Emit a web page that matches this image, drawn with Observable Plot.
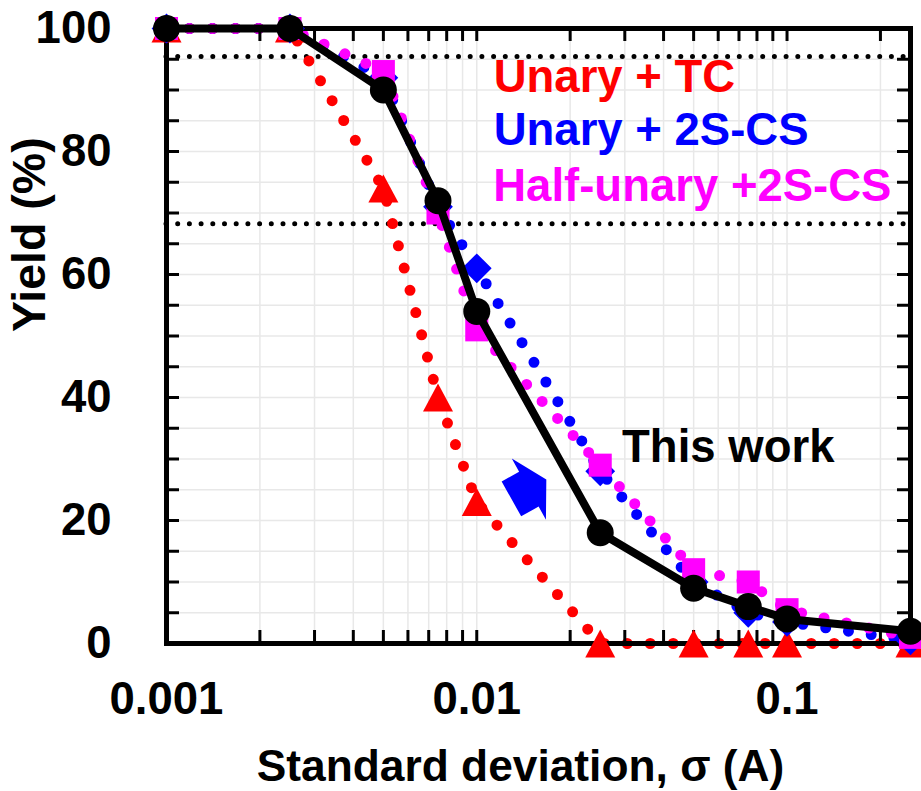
<!DOCTYPE html>
<html><head><meta charset="utf-8">
<script src="https://cdn.jsdelivr.net/npm/d3@7"></script>
<script src="https://cdn.jsdelivr.net/npm/@observablehq/plot@0.6"></script>
<style>
html,body{margin:0;padding:0;background:#fff;}
#chart svg{display:block;}
</style></head><body><div id="chart"></div>
<script>
// ---- data ----
const sigma = [0.001, 0.0025, 0.005, 0.0075, 0.01, 0.025, 0.05, 0.075, 0.1, 0.25];
const yieldTC = [100, 100, 74, 40, 23, 0, 0, 0, 0, 0];
const yield2S = [100, 100, 92, 71, 61, 28, 10, 5, 3.5, 0.5];
const yieldHalf = [100, 100, 93, 70, 51, 29, 12, 10, 5.5, 1];
const yieldThis = [100, 100, 90, 72, 54, 18, 9, 6, 4, 2];
const sigmaLevels = [95.45, 68.27];
const xTicks = [0.001, 0.01, 0.1];
const xTickLabels = ["0.001", "0.01", "0.1"];
const yTicks = [0, 20, 40, 60, 80, 100];
const seriesNames = ["Unary + TC", "Unary + 2S-CS", "Half-unary +2S-CS"];
const seriesColors = ["#ff0000", "#0000ff", "#ff00ff"];
const legendX = [0.01134, 0.01134, 0.0113];
const legendY = [92.0, 83.35, 74.4];
const thisWorkLabel = [{text: "This work", x: 0.0294, y: 31.8}];
const arrowPos = [{x: 0.01472, y: 25.1}];
const xLabel = "Standard deviation, σ (A)";
const yLabel = "Yield (%)";

// ---- helpers ----
const rows = ys => sigma.map((x, i) => ({x, y: ys[i]}));
const xMinor = d3.merge([0.001, 0.01, 0.1].map(d => d3.range(1, 10).map(k => +(k * d).toPrecision(3))))
  .filter(v => v > 0.001 && v <= 0.25);
const yMinor = d3.range(5, 100, 5);

const W = 921, H = 791, mL = 166, mR = 11, mT = 28, mB = 148;
const fw = W - mL - mR, fh = H - mT - mB, tl = 13;
const font = "'Liberation Sans', Arial, Helvetica, sans-serif";
const fs = 45.5;

const arrowSymbol = {
  draw(ctx) {
    const a = -29.2 * Math.PI / 180, c = Math.cos(a), s = Math.sin(a);
    const pts = [[20,0],[0,-35],[0,-20],[-20,-20],[-20,20],[0,20],[0,35]];
    pts.forEach(([x, y], i) => {
      const X = x * c - y * s, Y = x * s + y * c;
      i ? ctx.lineTo(X, Y) : ctx.moveTo(X, Y);
    });
    ctx.closePath();
  }
};
const diamondSymbol = {
  draw(ctx, size) {
    const r = Math.sqrt(size) * 0.7;
    ctx.moveTo(0, -r); ctx.lineTo(r, 0); ctx.lineTo(0, r); ctx.lineTo(-r, 0); ctx.closePath();
  }
};
const triangleSymbol = {
  draw(ctx) {
    ctx.moveTo(0, -14); ctx.lineTo(15, 14); ctx.lineTo(-15, 14); ctx.closePath();
  }
};

const dotted = (ys, color) => Plot.line(rows(ys), {
  x: "x", y: "y", stroke: color, strokeWidth: 11, strokeDasharray: "0 23",
  strokeLinecap: "round", curve: "linear"
});

const chart = Plot.plot({
  width: W, height: H,
  marginLeft: mL, marginRight: mR, marginTop: mT, marginBottom: mB,
  style: {fontFamily: font, fontSize: fs + "px", fontWeight: "bold", background: "white", color: "black"},
  x: {type: "log", domain: [0.001, 0.25], ticks: xTicks,
      tickFormat: d => xTickLabels[xTicks.indexOf(d)], tickSize: 0, tickPadding: 38, label: null},
  y: {domain: [0, 100], ticks: yTicks, tickSize: 0, tickPadding: 55, label: null},
  marks: [
    Plot.ruleX(xMinor, {stroke: "#e8e8e8", strokeWidth: 1.5}),
    Plot.ruleY(yMinor, {stroke: "#e8e8e8", strokeWidth: 1.5}),
    Plot.ruleY(sigmaLevels, {stroke: "black", strokeWidth: 5, strokeDasharray: "0 11.7", strokeLinecap: "round"}),
    dotted(yieldTC, seriesColors[0]),
    dotted(yield2S, seriesColors[1]),
    dotted(yieldHalf, seriesColors[2]),
    Plot.frame({stroke: "black", strokeWidth: 5}),
    Plot.tickX(xMinor, {insetTop: fh - tl, stroke: "black", strokeWidth: 3}),
    Plot.tickX(xMinor, {insetBottom: fh - tl, stroke: "black", strokeWidth: 3}),
    Plot.tickY(yMinor, {insetRight: fw - tl, stroke: "black", strokeWidth: 3}),
    Plot.tickY(yMinor, {insetLeft: fw - tl, stroke: "black", strokeWidth: 3}),
    Plot.dot(rows(yieldTC), {x: "x", y: "y", symbol: triangleSymbol, r: 10, fill: seriesColors[0]}),
    Plot.dot(rows(yield2S), {x: "x", y: "y", symbol: diamondSymbol, r: 12, fill: seriesColors[1]}),
    Plot.dot(rows(yieldHalf), {x: "x", y: "y", symbol: "square", r: 13, fill: seriesColors[2]}),
    Plot.line(rows(yieldThis), {x: "x", y: "y", stroke: "black", strokeWidth: 8, strokeLinejoin: "round"}),
    Plot.dot(rows(yieldThis), {x: "x", y: "y", r: 13.5, fill: "black"}),
    ...seriesNames.map((name, i) => Plot.text([name], {
      x: () => legendX[i], y: () => legendY[i], text: d => d, fill: seriesColors[i],
      textAnchor: "start", lineAnchor: "middle", fontSize: fs, fontWeight: "bold"
    })),
    Plot.text(thisWorkLabel, {x: "x", y: "y", text: "text", fill: "black", textAnchor: "start",
      lineAnchor: "middle", fontSize: fs, fontWeight: "bold"}),
    Plot.dot(arrowPos, {x: "x", y: "y", symbol: arrowSymbol, r: 10, fill: "#0000ff"}),
    Plot.text([xLabel], {frameAnchor: "bottom", text: d => d, dx: -18, dy: 123, lineAnchor: "middle",
      fontSize: 44.3, fontWeight: "bold", fill: "black"}),
    Plot.text([yLabel], {frameAnchor: "left", text: d => d, dx: -136, dy: -4, rotate: -90, lineAnchor: "middle",
      fontSize: 46.5, fontWeight: "bold", fill: "black"})
  ]
});
document.getElementById("chart").appendChild(chart);
</script></body></html>
